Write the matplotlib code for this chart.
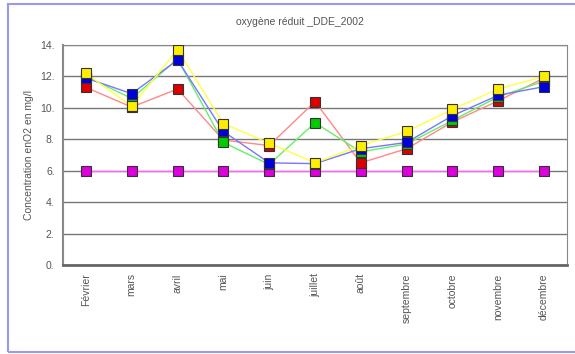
import matplotlib.pyplot as plt
from matplotlib.patches import Rectangle

# Data
months = ['Février', 'mars', 'avril', 'mai', 'juin', 'juillet', 'août',
          'septembre', 'octobre', 'novembre', 'décembre']
red = [11.3, 10.05, 11.2, 7.95, 7.6, 10.4, 6.5, 7.4, 9.1, 10.45, 11.9]
green = [12.0, 10.6, 13.1, 7.8, 6.4, 9.05, 7.2, 7.7, 9.2, 10.7, 11.7]
blue = [11.9, 10.9, 13.05, 8.5, 6.5, 6.45, 7.4, 7.8, 9.5, 10.8, 11.35]
yellow = [12.2, 10.1, 13.7, 9.0, 7.75, 6.5, 7.6, 8.5, 9.9, 11.2, 12.0]
limit = [6.0] * len(months)

yticks = [0, 2, 4, 6, 8, 10, 12, 14]
ytick_labels = ['0.', '2.', '4.', '6.', '8.', '10.', '12.', '14.']

plt.rcParams['font.family'] = ['Liberation Sans', 'DejaVu Sans']

fig = plt.figure(figsize=(5.75, 3.54), dpi=100)

# outer chart border
fig.patches.append(Rectangle((8 / 575, 2 / 354), 1.0, 1 - 6 / 354,
                             transform=fig.transFigure, fill=False,
                             edgecolor='#9999ee', linewidth=1.5))

ax = fig.add_axes([63 / 575, 1 - 265 / 354, 504 / 575, 220 / 354])
x = range(len(months))

series = [
    (limit, '#ff66ff', '#dd00dd'),
    (red, '#ff8888', '#dd0000'),
    (green, '#66ee66', '#00cc00'),
    (blue, '#7777ff', '#0000dd'),
    (yellow, '#ffff44', '#ffee00'),
]
for vals, lc, mc in series:
    ax.plot(x, vals, color=lc, linewidth=1.0, zorder=3)
    ax.plot(x, vals, linestyle='none', marker='s', markersize=6.5,
            markerfacecolor=mc, markeredgecolor='#333333',
            markeredgewidth=0.8, zorder=4)

ax.set_xlim(-0.5, len(months) - 0.5)
ax.set_ylim(0, 14)
ax.set_yticks(yticks)
ax.set_yticklabels(ytick_labels, fontsize=7.5, color='#555555')
ax.set_xticks(list(x))
ax.set_xticklabels(months, rotation=90, fontsize=7.5, color='#555555')
ax.tick_params(length=0, pad=6)
ax.grid(axis='y', color='#777777', linewidth=1.0, zorder=1)
for s in ax.spines.values():
    s.set_color('#888888')
ax.spines['bottom'].set_linewidth(2)
ax.spines['bottom'].set_color('#666666')
ax.spines['left'].set_linewidth(1.5)

ax.set_ylabel('Concentration enO2 en mg/l', fontsize=7.5, color='#555555',
              labelpad=4)
fig.text(300 / 575, 1 - 22 / 354, 'oxygène réduit _DDE_2002', fontsize=7.5,
         color='#555555', ha='center', va='center')

fig.savefig('out.png', dpi=100)
